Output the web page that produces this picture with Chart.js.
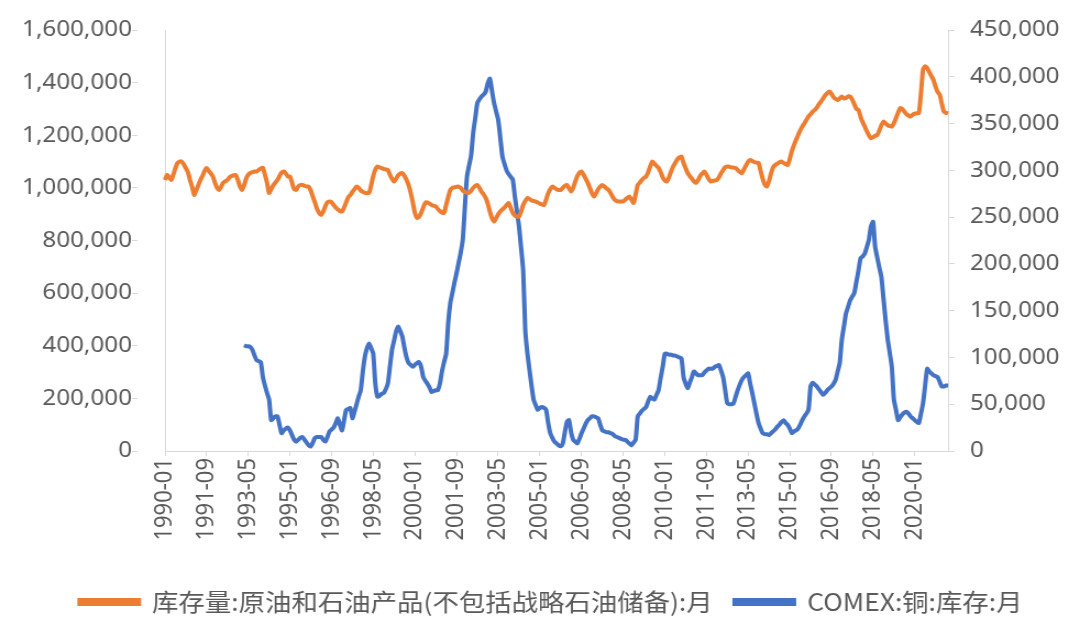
<!DOCTYPE html>
<html lang="zh-CN">
<head>
  <meta charset="UTF-8" />
  <title>原油库存与COMEX铜库存</title>
  <script src="https://cdn.jsdelivr.net/npm/chart.js"></script>
  <style>
    html, body { margin: 0; padding: 0; background: #fff; overflow: hidden; }
    /* the reference is slightly stretched horizontally */
    #wrap { width: 982px; height: 631px; transform: scaleX(1.0998); transform-origin: 0 0; }
  </style>
</head>
<body>
  <div id="wrap"><canvas id="grafico"></canvas></div>

  <script>
    // 月份 1990-01 .. 2021-05
    const meses = [];
    for (let a = 1990; a <= 2021; a++) {
      for (let m = 1; m <= 12; m++) {
        if (a === 2021 && m > 5) break;
        meses.push(a + '-' + String(m).padStart(2, '0'));
      }
    }

    // 库存量:原油和石油产品(不包括战略石油储备):月  (左轴)
    const estoqueOleo = [
      1030000,1049000,1040000,1030000,1050000,1075000,1095000,1100000,1100000,1090000,1075000,1060000,
      1030000,1005000,973000,990000,1010000,1030000,1045000,1065000,1076000,1065000,1055000,1043000,
      1020000,1000000,992000,1005000,1020000,1025000,1030000,1040000,1045000,1048000,1049000,1030000,
      1005000,992000,1010000,1035000,1050000,1057000,1060000,1062000,1062000,1068000,1074000,1076000,
      1050000,1019000,981000,995000,1010000,1020000,1030000,1045000,1058000,1062000,1055000,1043000,
      1043000,1020000,995000,992000,1005000,1011000,1011000,1008000,1005000,1005000,990000,967000,
      945000,920000,905000,897000,910000,930000,945000,948000,945000,935000,925000,918000,
      912000,910000,925000,945000,965000,973000,985000,995000,1005000,1000000,990000,985000,
      981000,980000,981000,1010000,1045000,1070000,1081000,1078000,1075000,1072000,1070000,1068000,
      1050000,1035000,1024000,1035000,1048000,1055000,1056000,1045000,1030000,1010000,981000,945000,
      905000,886000,890000,905000,925000,943000,945000,940000,935000,932000,929000,920000,
      912000,906000,905000,935000,965000,992000,1000000,1002000,1004000,1005000,1000000,990000,
      985000,981000,981000,990000,1000000,1008000,1011000,1000000,985000,975000,962000,940000,
      910000,885000,872000,885000,900000,910000,918000,925000,935000,943000,925000,905000,
      895000,891000,891000,910000,935000,950000,962000,958000,952000,950000,948000,944000,
      940000,937000,935000,955000,980000,995000,1005000,1000000,995000,992000,992000,1000000,
      1008000,1011000,998000,986000,1000000,1024000,1045000,1058000,1062000,1050000,1035000,1019000,
      1000000,980000,967000,980000,995000,1005000,1011000,1005000,998000,992000,980000,965000,
      954000,950000,948000,948000,948000,955000,962000,967000,955000,943000,975000,1011000,
      1020000,1030000,1038000,1043000,1060000,1082000,1100000,1092000,1084000,1076000,1060000,1040000,
      1028000,1024000,1040000,1062000,1081000,1095000,1108000,1116000,1119000,1095000,1075000,1056000,
      1045000,1035000,1025000,1019000,1030000,1045000,1055000,1062000,1050000,1035000,1024000,1026000,
      1028000,1030000,1040000,1055000,1068000,1078000,1081000,1080000,1078000,1077000,1076000,1068000,
      1060000,1056000,1070000,1085000,1100000,1106000,1102000,1098000,1096000,1095000,1065000,1035000,
      1012000,1005000,1025000,1055000,1078000,1087000,1092000,1097000,1100000,1095000,1090000,1087000,
      1110000,1140000,1162000,1182000,1200000,1218000,1233000,1245000,1258000,1271000,1280000,1290000,
      1296000,1305000,1318000,1328000,1340000,1352000,1360000,1366000,1358000,1345000,1338000,1334000,
      1340000,1347000,1340000,1342000,1348000,1347000,1335000,1318000,1300000,1296000,1270000,1250000,
      1233000,1215000,1200000,1189000,1192000,1198000,1201000,1218000,1238000,1252000,1245000,1238000,
      1235000,1233000,1246000,1265000,1285000,1303000,1300000,1290000,1280000,1275000,1271000,1278000,
      1282000,1284000,1284000,1360000,1449000,1462000,1455000,1440000,1425000,1410000,1385000,1365000,
      1354000,1320000,1290000,1285000,1283000
    ];

    // COMEX:铜:库存:月  (右轴)
    const estoqueCobre = [
      null,null,null,null,null,null,null,null,null,null,null,null,
      null,null,null,null,null,null,null,null,null,null,null,null,
      null,null,null,null,null,null,null,null,null,null,null,null,
      null,null,113000,112000,112000,111000,108000,102000,97000,96000,95000,79000,
      70000,62000,55000,33000,35000,37000,37000,28000,19000,22000,24000,25000,
      22000,17000,12000,10000,12000,14000,15000,12000,9000,6000,5000,9000,
      14000,15000,15000,15000,12000,10000,15000,21000,23000,25000,30000,35000,
      28000,22000,33000,44000,45000,46000,35000,42000,50000,58000,65000,85000,
      101000,110000,115000,110000,104000,72000,58000,59000,61000,62000,66000,72000,
      90000,108000,118000,128000,133000,128000,122000,110000,100000,94000,92000,90000,
      92000,94000,95000,90000,79000,75000,72000,68000,63000,64000,65000,65000,
      72000,85000,95000,104000,137000,158000,169000,180000,190000,201000,212000,226000,
      261000,293000,305000,316000,340000,356000,372000,376000,379000,381000,384000,393000,
      398000,385000,372000,363000,354000,335000,315000,307000,300000,296000,293000,290000,
      272000,256000,240000,217000,193000,129000,105000,87000,70000,55000,49000,44000,
      46000,47000,46000,44000,30000,19000,14000,10000,8000,6000,5000,8000,
      20000,31000,33000,20000,12000,10000,8000,13000,19000,24000,29000,33000,
      35000,37000,37000,36000,35000,28000,22000,21000,20000,20000,19000,18000,
      16000,15000,14000,13000,12000,12000,10000,8000,6000,9000,12000,37000,
      40000,43000,45000,47000,53000,58000,56000,55000,60000,65000,78000,90000,
      104000,104000,103000,103000,102000,102000,101000,100000,99000,79000,72000,67000,
      73000,79000,85000,83000,81000,81000,81000,84000,86000,88000,88000,88000,
      90000,91000,92000,86000,79000,65000,51000,50000,50000,51000,58000,65000,
      71000,76000,79000,81000,83000,72000,62000,51000,40000,30000,24000,19000,
      18000,18000,17000,19000,21000,23000,26000,28000,31000,33000,30000,28000,
      24000,19000,21000,22000,24000,28000,33000,37000,40000,44000,69000,73000,
      71000,69000,66000,63000,60000,62000,65000,67000,69000,72000,76000,85000,
      94000,119000,133000,147000,154000,161000,165000,169000,181000,193000,206000,208000,
      211000,218000,226000,240000,245000,218000,207000,196000,186000,163000,140000,120000,
      105000,90000,55000,44000,33000,36000,39000,41000,42000,40000,37000,35000,
      33000,31000,30000,40000,51000,70000,88000,85000,83000,81000,80000,79000,
      74000,69000,69000,70000,70000
    ];

    const nomeOleo = '库存量:原油和石油产品(不包括战略石油储备):月';
    const nomeCobre = 'COMEX:铜:库存:月';

    const corOleo = '#ED7D31';
    const corCobre = '#4472C4';
    const corEixo = '#d9d9d9';
    const corTexto = '#595959';

    const fmt = v => Number(v).toLocaleString('en-US');

    // empurra a legenda um pouco para a direita, como no original
    const deslocaLegenda = {
      id: 'deslocaLegenda',
      afterLayout(chart) {
        chart.legend.left += 10;
        chart.legend.right += 10;
      }
    };

    new Chart(document.getElementById('grafico'), {
      type: 'line',
      data: {
        labels: meses,
        datasets: [
          { label: nomeOleo, data: estoqueOleo, yAxisID: 'y', borderColor: corOleo, backgroundColor: corOleo,
            borderWidth: 4, pointRadius: 0, tension: 0.2 },
          { label: nomeCobre, data: estoqueCobre, yAxisID: 'y1', borderColor: corCobre, backgroundColor: corCobre,
            borderWidth: 4, pointRadius: 0, tension: 0.2 }
        ]
      },
      plugins: [deslocaLegenda],
      options: {
        responsive: true,
        maintainAspectRatio: false,
        animation: false,
        layout: { padding: { top: 30, bottom: 7, left: 0, right: 0 } },
        plugins: {
          tooltip: { enabled: false },
          legend: {
            position: 'bottom',
            labels: {
              boxWidth: 54, boxHeight: 4, padding: 20, color: corTexto,
              font: { family: '"Noto Sans CJK SC", "Noto Sans"', size: 24 }
            }
          }
        },
        scales: {
          x: {
            grid: { drawOnChartArea: false, color: corEixo, tickLength: 5 },
            border: { color: corEixo },
            afterFit: s => { s.height = 119; },
            ticks: {
              autoSkip: false, minRotation: 90, maxRotation: 90, padding: 2, color: corTexto,
              font: { family: '"Noto Sans"', size: 22 },
              callback: (v, i) => (i % 20 === 0 ? meses[i] : null)
            }
          },
          y: {
            position: 'left', min: 0, max: 1600000,
            // long tick with a dash so only 5px show, keeps label gap without extra top padding
            grid: { drawOnChartArea: false, color: corEixo, tickLength: 30, tickBorderDash: [5, 200] },
            border: { color: corEixo },
            afterFit: s => { s.width = 150; },
            ticks: { stepSize: 200000, padding: 0, color: corTexto, font: { family: '"Noto Sans"', size: 22 }, callback: fmt }
          },
          y1: {
            position: 'right', min: 0, max: 450000,
            grid: { drawOnChartArea: false, color: corEixo, tickLength: 20, tickBorderDash: [5, 200] },
            border: { color: corEixo },
            afterFit: s => { s.width = 120; },
            ticks: { stepSize: 50000, padding: 0, color: corTexto, font: { family: '"Noto Sans"', size: 22 }, callback: fmt }
          }
        }
      }
    });
  </script>
</body>
</html>
